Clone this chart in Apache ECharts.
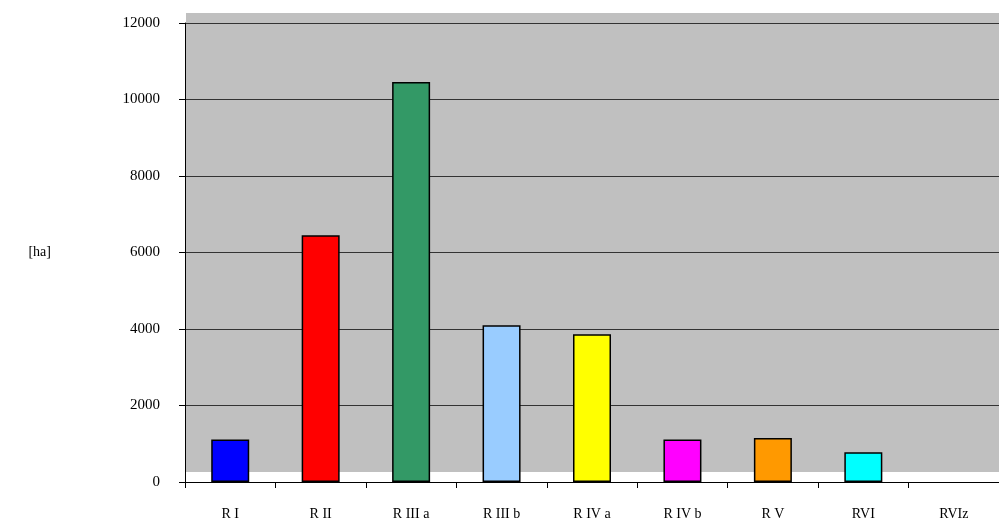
<!DOCTYPE html>
<html>
<head>
<meta charset="utf-8">
<script src="https://cdn.jsdelivr.net/npm/echarts@6/dist/echarts.min.js"></script>
<style>
  html, body { margin: 0; padding: 0; background: #fff; }
  #chart { width: 999px; height: 523px; }
</style>
</head>
<body>
<div id="chart"></div>
<script>
// Soil class areas in hectares
const categories = ['R I', 'R II', 'R III a', 'R III b', 'R IV a', 'R IV b', 'R V', 'RVI', 'RVIz'];
const areas = [1110, 6450, 10460, 4100, 3860, 1110, 1150, 780, 0];
const barColors = ['#0000FF', '#FF0000', '#339966', '#99CCFF', '#FFFF00', '#FF00FF', '#FF9900', '#00FFFF', '#C0C0C0'];
const yTicks = { min: 0, max: 12000, interval: 2000 };

const chart = echarts.init(document.getElementById('chart'), null, { renderer: 'canvas' });
const font = '"Liberation Serif", "Times New Roman", serif';

chart.setOption({
  animation: false,
  backgroundColor: '#fff',
  grid: { left: 185, right: 0, top: 23, bottom: 41, containLabel: false },
  graphic: [
    // grey back wall, shifted up from the floor
    { type: 'rect', z: -10, shape: { x: 186, y: 13, width: 813, height: 459 }, style: { fill: '#C0C0C0' } }
  ],
  xAxis: {
    type: 'category',
    data: categories,
    axisLine: { lineStyle: { color: '#000', width: 1 } },
    axisTick: { show: true, length: 6, lineStyle: { color: '#000' } },
    axisLabel: { color: '#000', fontFamily: font, fontSize: 14, margin: 25 }
  },
  yAxis: {
    type: 'value',
    min: yTicks.min,
    max: yTicks.max,
    interval: yTicks.interval,
    name: '[ha]',
    nameLocation: 'middle',
    nameRotate: 0,
    nameGap: 134,
    nameTextStyle: { color: '#000', fontFamily: font, fontSize: 14 },
    axisLine: { show: true, lineStyle: { color: '#000', width: 1 } },
    axisTick: { show: true, length: 6, lineStyle: { color: '#000' } },
    axisLabel: { color: '#000', fontFamily: font, fontSize: 15, margin: 25, formatter: v => String(v) },
    splitLine: { show: true, lineStyle: { color: '#333', width: 1 } }
  },
  series: [{
    type: 'bar',
    barWidth: 38,
    data: areas.map((v, i) => ({
      value: v,
      itemStyle: { color: barColors[i], borderColor: '#000', borderWidth: v > 0 ? 1.5 : 0 }
    }))
  }]
});
</script>
</body>
</html>
